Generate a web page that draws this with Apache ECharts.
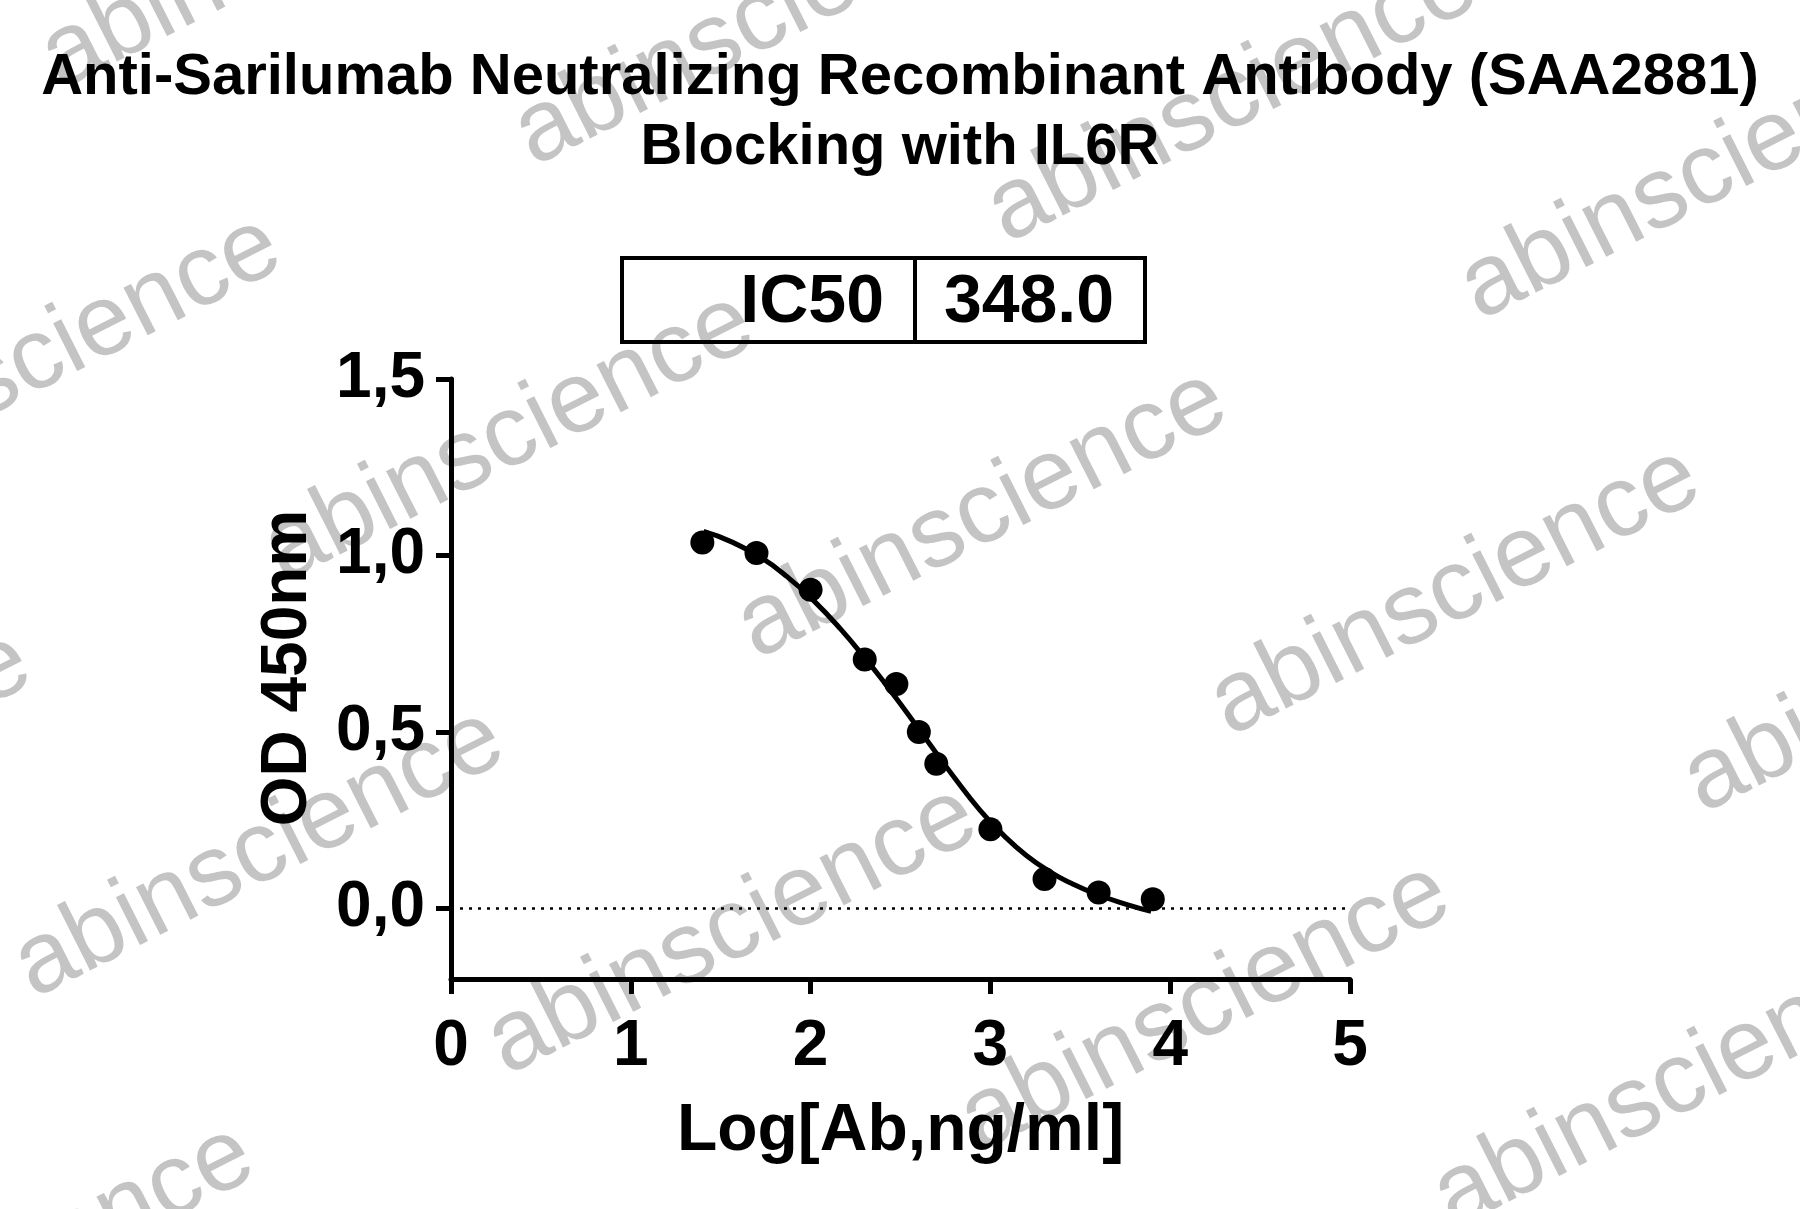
<!DOCTYPE html>
<html>
<head>
<meta charset="utf-8">
<script src="https://cdn.jsdelivr.net/npm/echarts@6/dist/echarts.min.js"></script>
<style>
html,body{margin:0;padding:0;background:#fff;}
#chart{width:1800px;height:1209px;}
</style>
</head>
<body>
<div id="chart"></div>
<script>
// ---- data ----
const titleLines = ['Anti-Sarilumab Neutralizing Recombinant Antibody (SAA2881)', 'Blocking with IL6R'];
const xAxisName = 'Log[Ab,ng/ml]';
const yAxisName = 'OD 450nm';
const ic50Label = 'IC50';
const ic50Value = '348.0';
const xTicks = [0, 1, 2, 3, 4, 5];
const yTicks = [0, 0.5, 1.0, 1.5];
const yTickLabels = ['0,0', '0,5', '1,0', '1,5'];
const logConc = [1.398, 1.699, 2.000, 2.301, 2.477, 2.602, 2.699, 3.000, 3.301, 3.602, 3.903];
const odValues = [1.037, 1.007, 0.903, 0.705, 0.636, 0.500, 0.410, 0.224, 0.083, 0.045, 0.026];
const fitX = [1.405, 1.554, 1.721, 1.869, 2.017, 2.166, 2.314, 2.407, 2.499, 2.648, 2.796, 2.944, 3.074, 3.200, 3.334, 3.450, 3.575, 3.760, 3.894];
const fitY = [1.068, 1.040, 0.995, 0.940, 0.872, 0.792, 0.702, 0.642, 0.580, 0.476, 0.373, 0.277, 0.207, 0.150, 0.103, 0.071, 0.043, 0.011, -0.008];
const baselineLine = [0, 5];
const watermarkText = 'abinscience';

const FONT = '"Liberation Sans", Arial, Helvetica, sans-serif';

const chart = echarts.init(document.getElementById('chart'), null, {renderer: 'canvas'});

// watermark lattice (decoration)
const wm = [];
for (let j = -1; j <= 3; j++) {
  for (let i = -1; i <= 4; i++) {
    const x = 544 + i * 473 - j * 250;
    const y = 187 + i * 77 + j * 416;
    wm.push({
      type: 'text', x: x, y: y, rotation: 0.468, z: -10, silent: true,
      style: {text: watermarkText, x: 0, y: 0, fill: '#c4c4c4',
        font: 'normal 101px ' + FONT, textAlign: 'left', textVerticalAlign: 'bottom'}
    });
  }
}

const option = {
  backgroundColor: '#ffffff',
  animation: false,
  title: {
    text: titleLines.join('\n'),
    left: 'center', top: 43, padding: 0,
    textStyle: {fontFamily: FONT, fontWeight: 'bold', fontSize: 58, lineHeight: 70, color: '#000'}
  },
  grid: {left: 451, top: 379, width: 899, height: 600, containLabel: false},
  xAxis: {
    type: 'value', min: 0, max: 5, interval: 1,
    name: xAxisName, nameLocation: 'middle', nameGap: 120,
    nameTextStyle: {fontFamily: FONT, fontWeight: 'bold', fontSize: 66, color: '#000'},
    axisLine: {onZero: false, lineStyle: {color: '#000', width: 5}},
    axisTick: {show: true, inside: false, length: 15, lineStyle: {color: '#000', width: 5}},
    axisLabel: {margin: 36, fontFamily: FONT, fontWeight: 'bold', fontSize: 64, color: '#000'},
    splitLine: {show: false}
  },
  yAxis: {
    type: 'value', min: -0.2, max: 1.5,
    axisLine: {onZero: false, lineStyle: {color: '#000', width: 5}},
    axisTick: {show: true, inside: false, length: 15, customValues: yTicks, lineStyle: {color: '#000', width: 5}},
    axisLabel: {margin: 26, customValues: yTicks, fontFamily: FONT, fontWeight: 'bold', fontSize: 64, color: '#000',
      padding: [8, 0, 0, 0],
      formatter: function (v) { const k = yTicks.findIndex(t => Math.abs(t - v) < 1e-6); return k >= 0 ? yTickLabels[k] : ''; }},
    splitLine: {show: false}
  },
  graphic: wm.concat([
    {type: 'text', x: 288, y: 668, rotation: Math.PI / 2, z: 100,
      style: {text: yAxisName, font: 'bold 64px ' + FONT, fill: '#000', textAlign: 'center', textVerticalAlign: 'middle'}},
    {type: 'rect', z: 100, shape: {x: 622, y: 258, width: 523, height: 84},
      style: {fill: 'rgba(0,0,0,0)', stroke: '#000', lineWidth: 4}},
    {type: 'line', z: 100, shape: {x1: 915, y1: 258, x2: 915, y2: 342}, style: {stroke: '#000', lineWidth: 4}},
    {type: 'text', x: 884, y: 303, z: 100,
      style: {text: ic50Label, font: 'bold 68px ' + FONT, fill: '#000', textAlign: 'right', textVerticalAlign: 'middle'}},
    {type: 'text', x: 1029, y: 303, z: 100,
      style: {text: ic50Value, font: 'bold 68px ' + FONT, fill: '#000', textAlign: 'center', textVerticalAlign: 'middle'}}
  ]),
  series: [
    {
      type: 'line', name: 'baseline', data: baselineLine.map(x => [x, 0]),
      showSymbol: false, silent: true, z: 1,
      lineStyle: {color: '#000', width: 2.5, type: [3, 6]}
    },
    {
      type: 'line', name: 'fit', data: fitX.map((x, k) => [x, fitY[k]]),
      showSymbol: false, smooth: 0.5, z: 3,
      lineStyle: {color: '#000', width: 5}
    },
    {
      type: 'scatter', name: 'OD', data: logConc.map((x, k) => [x, odValues[k]]),
      symbol: 'circle', symbolSize: 24, z: 4,
      itemStyle: {color: '#000', opacity: 1}
    }
  ]
};
chart.setOption(option);
</script>
</body>
</html>
